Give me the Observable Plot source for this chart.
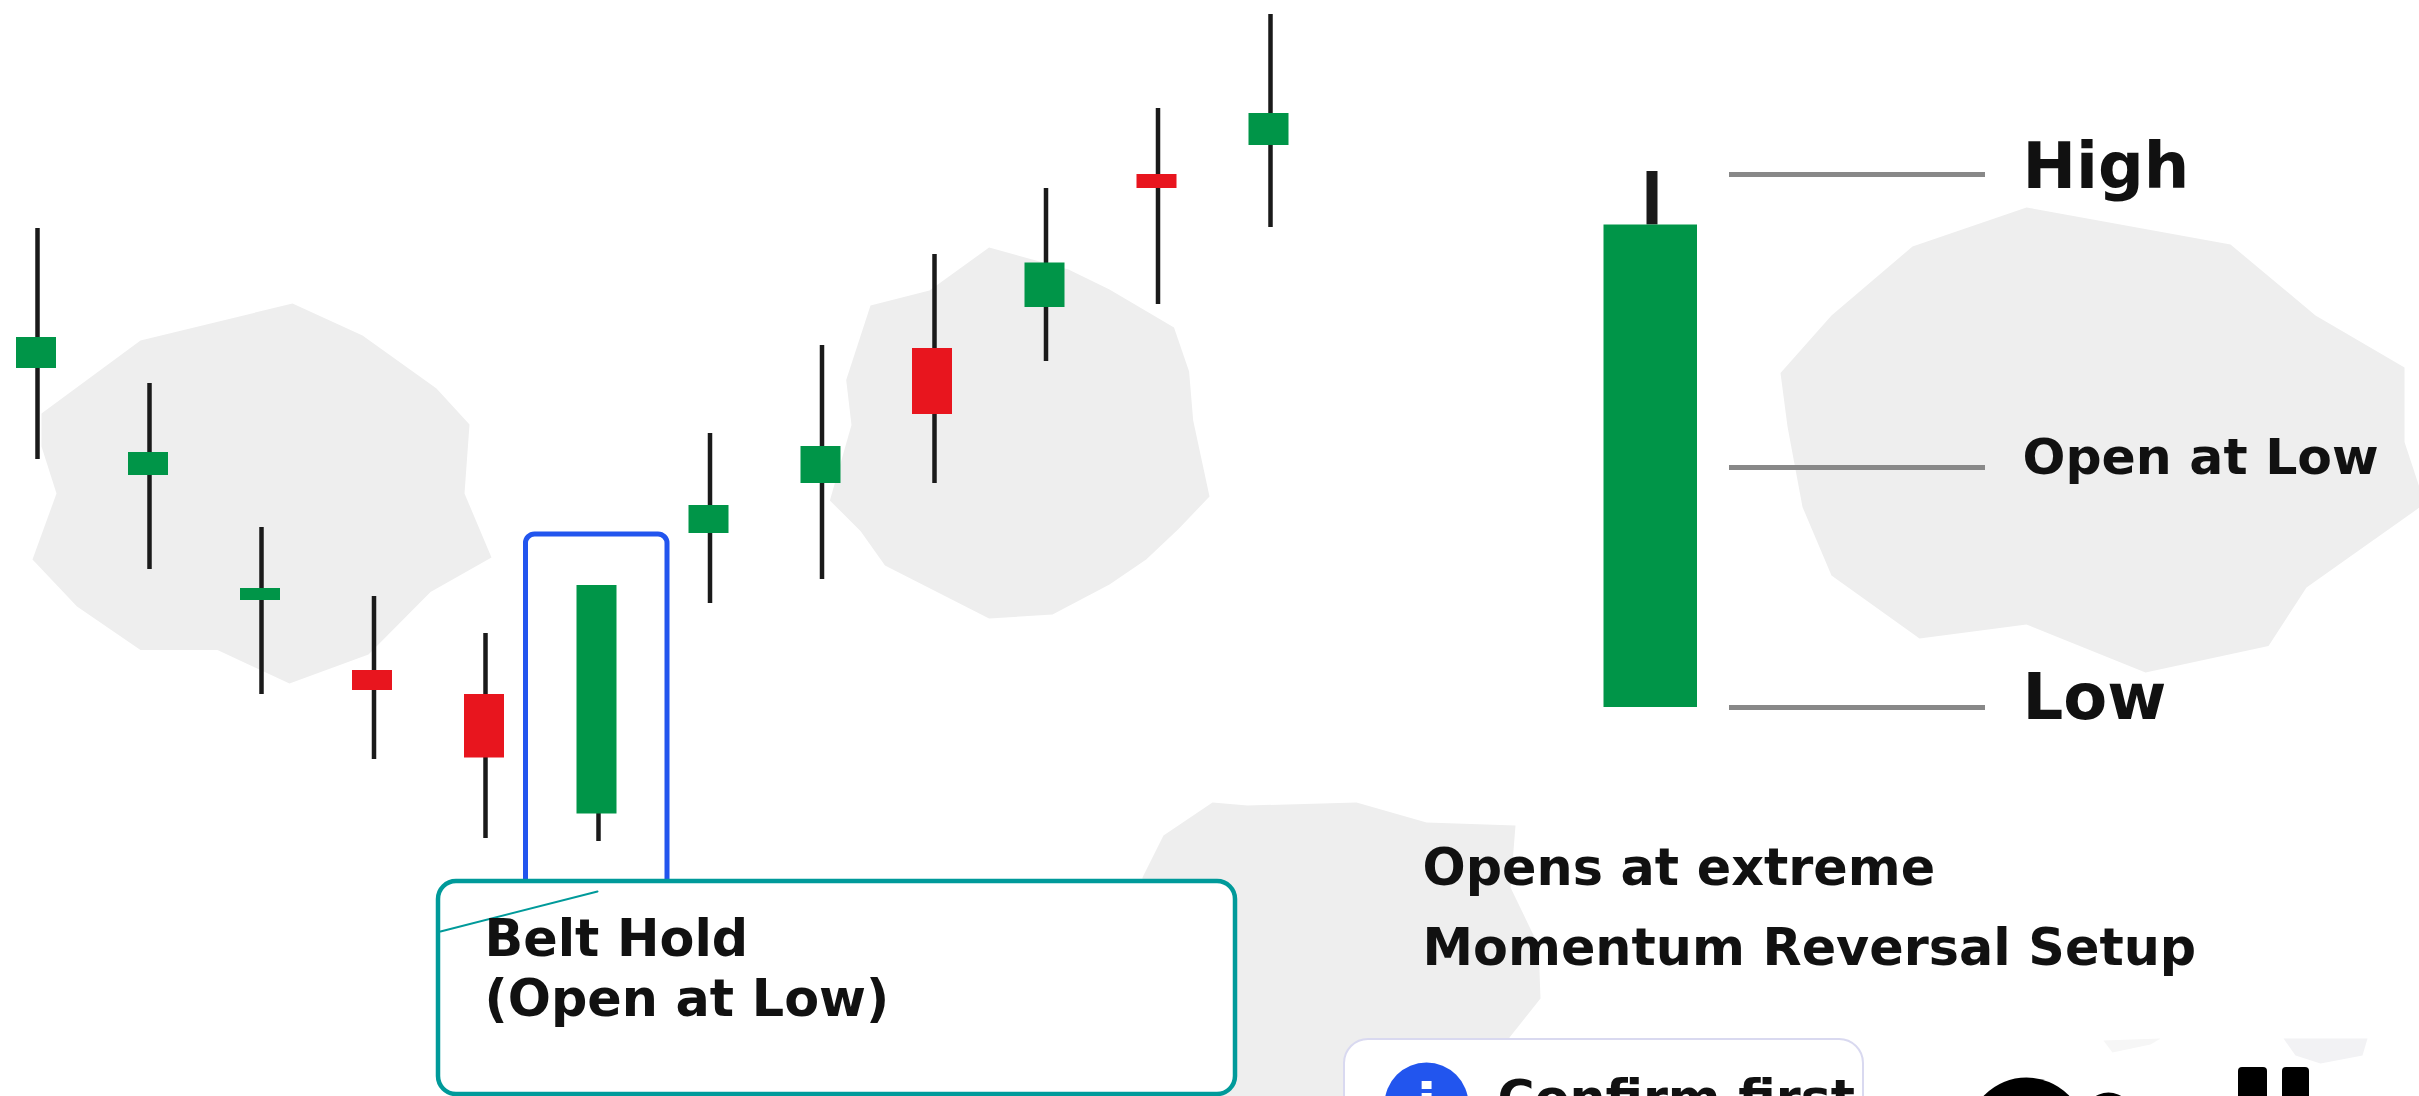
<!DOCTYPE html>
<html>
<head>
<meta charset="utf-8">
<style>html,body{margin:0;padding:0;background:#fff;overflow:hidden}svg{display:block}</style>
<script src="https://cdn.jsdelivr.net/npm/d3@7"></script>
<script src="https://cdn.jsdelivr.net/npm/@observablehq/plot@0.6"></script>
</head>
<body>
<div id="chart"></div>
<script>
// Candles in chart units (no price axis in the reference)
const wickX  = [37, 149, 261, 373.5, 485, 598, 709.5, 821.5, 934, 1045.5, 1157.5, 1270];
const bodyX  = [36, 148, 260, 372, 484, 596.5, 708.5, 820.5, 932, 1044.5, 1156.5, 1268.5];
const highs  = [228, 383, 527, 596, 633, 585, 433, 345, 254, 188, 108, 14];
const lows   = [459, 569, 694, 759, 838, 841, 603, 579, 483, 361, 304, 227];
const tops   = [337, 452, 588, 670, 694, 585, 505, 446, 348, 262.5, 174, 113];
const bottoms= [368, 475, 600, 690, 757.5, 813.5, 533, 483, 414, 307, 188, 145];
const kinds  = ["up","up","up","down","down","up","up","up","down","up","down","up"];

// Anatomy candle
const bigBodyX = [1603.5, 1697];
const bigBodyY = [224.5, 707];
const bigWickX = 1651.5;
const bigWickY = [171, 224.5];
const leaderX  = [1729, 1985];
const leaderY  = [174, 467, 707];

// Background blobs
const blob1X = [41,140,292,362,436,469,464,491,430,368,289,217,140,76.5,32,56,41];
const blob1Y = [413,340,303,335,388,424,493,557,591.5,654,683,649.5,649.5,606,559,493,446];
const blob2X = [870,929,988.6,1068,1109,1173.5,1188.6,1192.7,1209,1178,1145.7,1109,1052,988.6,884.5,860,829.4,851,845.7];
const blob2Y = [305,290,247,269,289,327,371,420,496,528.6,559,584,614,618,565,530.6,500,424.5,379.6];
const blob3X = [2026,2230,2315,2404,2404,2419,2419,2306,2268,2145,2026,1919,1831,1802,1787,1780,1831,1912];
const blob3Y = [207,244,315,367,441.5,487,507,587,645.5,672,624,638,575,506.5,426,372.6,315,246];
const blob4X = [1212,1247,1356,1426,1515,1510,1538,1540,1509,1490,1142,1142,1163];
const blob4Y = [802,805,802,822,825,887,945,998,1037,1096,1096,877,835];
const smudge1X = [2103,2160,2150,2112];
const smudge1Y = [1040,1038,1044,1052];
const smudge2X = [2283,2367,2362,2320,2295];
const smudge2Y = [1038,1038,1055,1063,1055];

// Boxes
const blueBoxX = [525.5, 667];
const blueBoxY = [534, 1000];
const calloutX = [438, 1235];
const calloutY = [881, 1094];
const pointerX = [440, 597];
const pointerY = [931, 891];
const confirmX = [1344, 1863];
const confirmY = [1039, 1140];

// Labels
const labelTexts = ["High","Open at Low","Low","Opens at extreme","Momentum Reversal Setup","Belt Hold","(Open at Low)","Confirm first"];
const labelX     = [2022,2022,2022,1422,1422,484,484,1497];
const labelY     = [187,473,718,884,964,955,1015,1114];
const labelSize  = [64,50.5,64,50.8,50.8,50.8,50.8,50.6];

// Shapes cut off by the lower edge of the picture
const stubLargeX = 2026, stubLargeY = 1136, stubLargeR = 59;
const stubSmallX = 2108, stubSmallY = 1117, stubSmallR = 25;
const stubBarX1 = [2238, 2282];
const stubBarX2 = [2267, 2309];
const stubBarY  = [1067, 1140];

const GREEN = "#009548", RED = "#e8151e", INK = "#111111", WICK = "#1a1a1a", GREY = "#eeeeee";
const FONT = "'DejaVu Sans'";

const candles = wickX.map((x,i)=>({x, bx:bodyX[i], high:highs[i], low:lows[i], top:tops[i], bottom:bottoms[i], kind:kinds[i]}));
const labels = labelTexts.map((t,i)=>({t, x:labelX[i], y:labelY[i], s:labelSize[i]}));
const poly = (xs,ys)=>xs.map((x,i)=>({x, y:ys[i]}));
const blob = (xs,ys,fill=GREY)=>Plot.line(poly(xs,ys),{x:"x",y:"y",fill,stroke:"none",curve:"linear-closed"});
const leaders = leaderY.map(y=>({y}));

const chart = Plot.plot({
  width:2419, height:1096,
  marginTop:0, marginRight:0, marginBottom:0, marginLeft:0,
  x:{domain:[0,2419], range:[0,2419], axis:null},
  y:{domain:[0,1096], range:[0,1096], axis:null},
  style:{background:"#fff"},
  marks:[
    blob(blob1X,blob1Y), blob(blob2X,blob2Y), blob(blob3X,blob3Y), blob(blob4X,blob4Y),
    blob(smudge1X,smudge1Y,"#f6f6f6"), blob(smudge2X,smudge2Y,"#f2f2f4"),
    Plot.ruleX(candles,{x:"x",y1:"high",y2:"low",stroke:WICK,strokeWidth:4.5}),
    Plot.rect(candles,{x1:d=>d.bx-20,x2:d=>d.bx+20,y1:"top",y2:"bottom",fill:d=>d.kind==="up"?GREEN:RED}),
    // Highlight box and callout
    Plot.rect([0],{x1:[blueBoxX[0]],x2:[blueBoxX[1]],y1:[blueBoxY[0]],y2:[blueBoxY[1]],fill:"none",stroke:"#2255ee",strokeWidth:5,rx:9}),
    Plot.rect([0],{x1:[calloutX[0]],x2:[calloutX[1]],y1:[calloutY[0]],y2:[calloutY[1]],fill:"#fff",stroke:"#009a9a",strokeWidth:4.5,rx:18}),
    Plot.line(poly(pointerX,pointerY),{x:"x",y:"y",stroke:"#009a9a",strokeWidth:2}),
    // Anatomy candle
    Plot.ruleX([bigWickX],{y1:bigWickY[0],y2:bigWickY[1],stroke:WICK,strokeWidth:11}),
    Plot.rect([0],{x1:[bigBodyX[0]],x2:[bigBodyX[1]],y1:[bigBodyY[0]],y2:[bigBodyY[1]],fill:GREEN}),
    Plot.ruleY(leaders,{y:"y",x1:leaderX[0],x2:leaderX[1],stroke:"#888888",strokeWidth:5}),
    // Confirm box
    Plot.rect([0],{x1:[confirmX[0]],x2:[confirmX[1]],y1:[confirmY[0]],y2:[confirmY[1]],fill:"#fff",stroke:"#d9d9f0",strokeWidth:2,rx:24}),
    Plot.dot([0],{x:[1426],y:[1104],r:42,fill:"#2255ee",stroke:"none"}),
    Plot.text(["i"],{x:[1426],y:[1122],text:d=>d,fill:"#fff",fontFamily:FONT,fontWeight:"bold",fontSize:56,textAnchor:"middle",lineAnchor:"bottom"}),
    // Labels
    Plot.text(labels,{x:"x",y:"y",text:"t",fontSize:"s",fill:INK,fontFamily:FONT,fontWeight:"bold",textAnchor:"start",lineAnchor:"bottom"}),
    // Cut-off shapes at bottom right
    Plot.dot([0],{x:[stubLargeX],y:[stubLargeY],r:stubLargeR,fill:"#000",stroke:"none"}),
    Plot.dot([0],{x:[stubSmallX],y:[stubSmallY],r:stubSmallR,fill:"#000",stroke:"none"}),
    Plot.rect(stubBarX1.map((x,i)=>({x1:x,x2:stubBarX2[i]})),{x1:"x1",x2:"x2",y1:stubBarY[0],y2:stubBarY[1],fill:"#000",rx:4})
  ]
});
document.getElementById("chart").appendChild(chart);
</script>
</body>
</html>
